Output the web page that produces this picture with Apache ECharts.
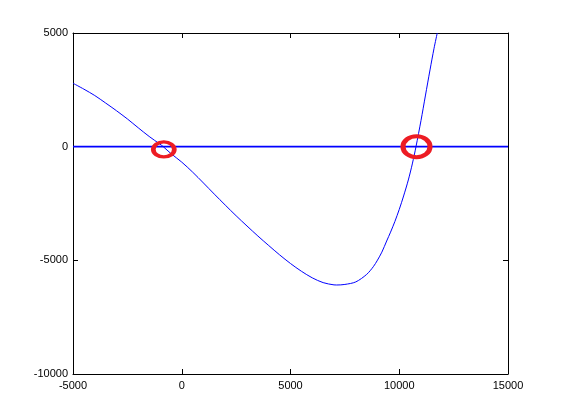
<!DOCTYPE html>
<html>
<head>
<meta charset="utf-8">
<script src="https://cdn.jsdelivr.net/npm/echarts@6/dist/echarts.min.js"></script>
<style>html,body{margin:0;padding:0;background:#fff}#c{width:561px;height:420px}</style>
</head>
<body>
<div id="c"></div>
<script>
// Curve samples
const curveX = [-5000, -4500, -4000, -3500, -3000, -2500, -2000, -1500, -1000, -850, -500, 0, 500, 1000, 1500, 2000, 2500, 3000, 3500, 4000, 4500, 5000, 5500, 6000, 6500, 7000, 7124, 7500, 8000, 8500, 8808, 9000, 9200, 9421, 9600, 9800, 10000, 10200, 10417, 10600, 10770, 11000, 11200, 11414, 11600, 11747];
const curveY = [2790, 2530, 2250, 1920, 1580, 1220, 830, 450, 110, 0, -300, -680, -1120, -1600, -2090, -2570, -3040, -3490, -3930, -4350, -4760, -5140, -5480, -5770, -5980, -6080, -6085, -6060, -5950, -5620, -5280, -4990, -4640, -4150, -3760, -3290, -2760, -2170, -1465, -760, 0, 1150, 2230, 3375, 4330, 5000];
// Zero line
const zeroX = [-5000, 15000];
const zeroY = [0, 0];
// Root markers
const root1 = [-825, -120];
const root2 = [10793, 0];
// Axis ticks
const xTicks = [-5000, 0, 5000, 10000, 15000];
const yTicks = [-10000, -5000, 0, 5000];

const font = "'Liberation Sans', Arial, Helvetica, sans-serif";
const curve = curveX.map((x, i) => [x, curveY[i]]);
const zero = zeroX.map((x, i) => [x, zeroY[i]]);

const chart = echarts.init(document.getElementById('c'), null, {renderer: 'canvas'});
const labelCommon = {color: '#000', fontFamily: font, fontSize: 11, formatter: v => String(v)};
const axisCommon = {
  type: 'value',
  axisLine: {show: true, onZero: false, lineStyle: {color: '#000', width: 1}},
  axisTick: {show: true, inside: true, length: 5, lineStyle: {color: '#000', width: 1}},
  splitLine: {show: false}
};
chart.setOption({
  animation: false,
  backgroundColor: '#fff',
  grid: {left: 73, top: 33, right: 53, bottom: 46, containLabel: false},
  xAxis: [
    Object.assign({}, axisCommon, {position: 'bottom', min: xTicks[0], max: xTicks[xTicks.length-1], interval: 5000,
      axisLabel: Object.assign({}, labelCommon, {margin: 6})}),
    Object.assign({}, axisCommon, {position: 'top', min: xTicks[0], max: xTicks[xTicks.length-1], interval: 5000,
      axisLabel: {show: false}})
  ],
  yAxis: [
    Object.assign({}, axisCommon, {position: 'left', min: yTicks[0], max: yTicks[yTicks.length-1], interval: 5000,
      axisLabel: Object.assign({}, labelCommon, {margin: 5})}),
    Object.assign({}, axisCommon, {position: 'right', min: yTicks[0], max: yTicks[yTicks.length-1], interval: 5000,
      axisLabel: {show: false}})
  ],
  series: [
    {type: 'line', data: zero, symbol: 'none', lineStyle: {color: '#0000ff', width: 1.6}, z: 2},
    {type: 'line', data: curve, symbol: 'none', smooth: 0.3, lineStyle: {color: '#0000ff', width: 1}, z: 3},
    {type: 'scatter', data: [root1], symbol: 'circle', symbolSize: [21, 15],
      itemStyle: {color: 'rgba(0,0,0,0)', borderColor: '#ed1c24', borderWidth: 4, opacity: 1}, z: 5},
    {type: 'scatter', data: [root2], symbol: 'circle', symbolSize: [27, 21],
      itemStyle: {color: 'rgba(0,0,0,0)', borderColor: '#ed1c24', borderWidth: 4.5, opacity: 1}, z: 5}
  ]
});
</script>
</body>
</html>
